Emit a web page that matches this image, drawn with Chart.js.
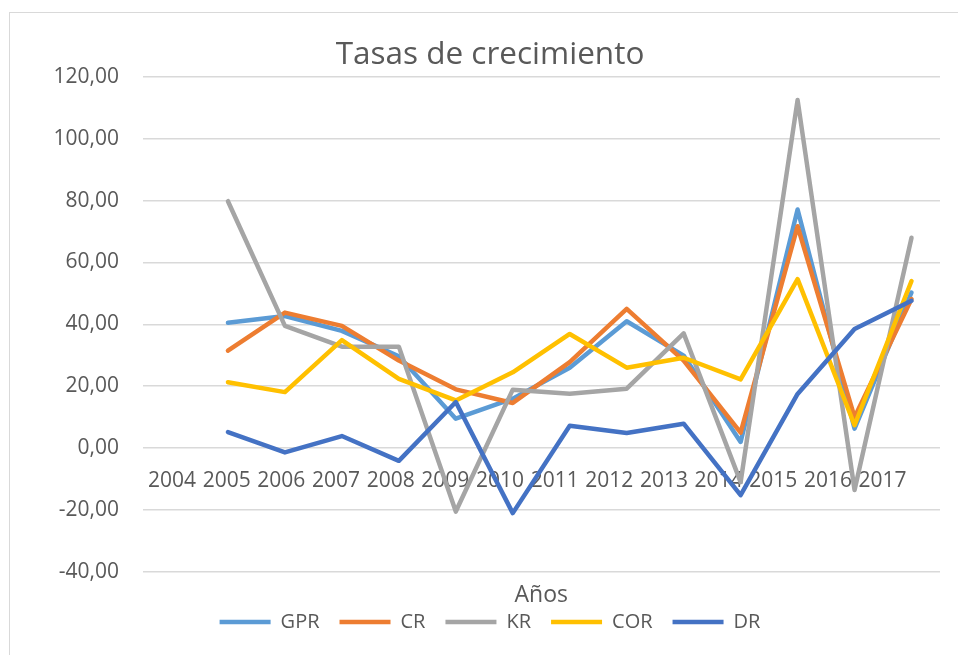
<!DOCTYPE html>
<html>
<head>
<meta charset="utf-8">
<script src="https://cdn.jsdelivr.net/npm/chart.js@4.4.0/dist/chart.umd.min.js"></script>
<style>
    html, body { margin: 0; padding: 0; background: #ffffff; overflow: hidden; }
    #frame { position: absolute; left: 9px; top: 12px; width: 1000px; height: 700px; border: 1px solid #d9d9d9; }
    #wrap { position: absolute; left: 0; top: 0; width: 958px; height: 655px; }
</style>
</head>
<body>
<div id="frame"></div>
<div id="wrap"><canvas id="chart"></canvas></div>
<script>
// growth rates, first year has no value
const years = ['2004', '2005', '2006', '2007', '2008', '2009', '2010', '2011', '2012', '2013', '2014', '2015', '2016', '2017'];
const gprValues = [null, 40.5, 42.7, 37.9, 29.7, 9.5, 16.0, 26.0, 41.0, 29.9, 2.0, 77.1, 6.3, 50.3];
const crValues = [null, 31.5, 43.8, 39.5, 28.3, 19.0, 14.6, 27.8, 45.0, 28.3, 5.0, 71.7, 10.0, 48.2];
const krValues = [null, 79.8, 39.5, 32.8, 32.8, -20.5, 18.9, 17.6, 19.2, 37.1, -11.0, 112.5, -13.5, 68.0];
const corValues = [null, 21.3, 18.1, 34.9, 22.4, 15.4, 24.5, 36.9, 26.0, 29.2, 22.2, 54.6, 7.4, 54.0];
const drValues = [null, 5.2, -1.4, 3.9, -4.1, 14.9, -21.0, 7.2, 4.9, 7.9, -15.2, 17.5, 38.5, 47.6];

const seriesNames = ['GPR', 'CR', 'KR', 'COR', 'DR'];
const seriesValues = [gprValues, crValues, krValues, corValues, drValues];
const seriesColors = ['#5b9bd5', '#ed7d31', '#a5a5a5', '#ffc000', '#4472c4'];

Chart.defaults.font.family = "'Open Sans', sans-serif";
Chart.defaults.color = '#595959';

const datasets = seriesNames.map((name, i) => {
    return {
        label: name,
        data: seriesValues[i],
        borderColor: seriesColors[i],
        backgroundColor: seriesColors[i],
        borderWidth: 4.5,
        borderJoinStyle: 'round',
        borderCapStyle: 'round',
        pointRadius: 0,
        pointHoverRadius: 0,
        tension: 0,
        fill: false,
        // later series on top, like the spreadsheet
        order: seriesNames.length - i,
    };
});

const ctx = document.getElementById('chart').getContext('2d');
new Chart(ctx, {
    type: 'line',
    data: {
        labels: years,
        datasets,
    },
    options: {
        responsive: true,
        maintainAspectRatio: false,
        animation: false,
        layout: {
            padding: { left: 40, right: 18, top: 0, bottom: 13 },
        },
        scales: {
            x: {
                type: 'category',
                position: 'bottom',
                offset: true,
                grid: { display: false, drawTicks: false },
                border: { display: false },
                ticks: { display: false },
                title: {
                    display: true,
                    text: 'Años',
                    font: { size: 23 },
                    padding: { top: 9.5, bottom: -17 },
                },
            },
            years: {
                type: 'linear',
                axis: 'x',
                position: { y: 0 },
                min: 2003.46,
                max: 2018.05,
                grid: { display: false, drawTicks: false },
                border: { display: false },
                afterBuildTicks: (scale) => {
                    scale.ticks = years.map(label => ({ value: Number(label) }));
                },
                afterFit: (scale) => {
                    scale.height = 0;
                },
                ticks: {
                    autoSkip: false,
                    maxRotation: 0,
                    padding: 20,
                    font: { size: 21 },
                    callback: (value) => String(value),
                },
            },
            y: {
                min: -40,
                max: 120,
                grid: { color: '#d9d9d9', lineWidth: 1.5, drawTicks: false },
                border: { display: false },
                afterFit: (scale) => {
                    scale.width = 102.5;
                },
                ticks: {
                    stepSize: 20,
                    padding: 23.5,
                    font: { size: 21 },
                    callback: (value) => value.toFixed(2).replace('.', ','),
                },
            },
        },
        plugins: {
            title: {
                display: true,
                text: 'Tasas de crecimiento',
                font: { size: 31.5, weight: 'normal' },
                color: '#595959',
                padding: { top: 36.5, bottom: 2.5 },
            },
            legend: {
                position: 'bottom',
                labels: {
                    usePointStyle: true,
                    pointStyle: 'line',
                    pointStyleWidth: 51,
                    padding: 20,
                    font: { size: 20 },
                    color: '#595959',
                    sort: (a, b) => a.datasetIndex - b.datasetIndex,
                },
            },
            tooltip: { enabled: false },
        },
    },
});
</script>
</body>
</html>
